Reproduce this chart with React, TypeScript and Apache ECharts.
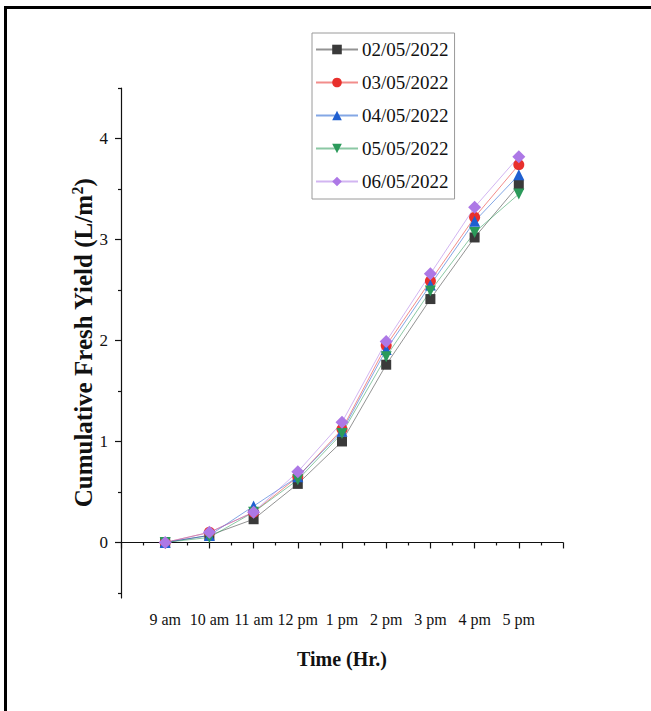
import React, { useEffect, useRef } from "react";
import * as echarts from "echarts";

const timeLabels = ["9 am", "10 am", "11 am", "12 pm", "1 pm", "2 pm", "3 pm", "4 pm", "5 pm"];
const seriesNames = ["02/05/2022", "03/05/2022", "04/05/2022", "05/05/2022", "06/05/2022"];
const d0205 = [0, 0.07, 0.23, 0.58, 1.0, 1.76, 2.41, 3.02, 3.54];
const d0305 = [0, 0.1, 0.3, 0.65, 1.12, 1.95, 2.59, 3.22, 3.74];
const d0405 = [0, 0.07, 0.36, 0.65, 1.1, 1.91, 2.55, 3.18, 3.64];
const d0505 = [0, 0.05, 0.3, 0.62, 1.08, 1.84, 2.49, 3.07, 3.45];
const d0605 = [0, 0.1, 0.3, 0.7, 1.19, 1.99, 2.66, 3.32, 3.82];
const yMajor = [0, 1, 2, 3, 4];
const yMinor = [-0.5, 0.5, 1.5, 2.5, 3.5, 4.5];

const FONT = "'Liberation Serif', 'Times New Roman', serif";

export default function App() {
  const ref = useRef<HTMLDivElement>(null);
  useEffect(() => {
    if (!ref.current) return;
    const chart = echarts.init(ref.current, undefined, { renderer: "svg" });
    const allData = [d0205, d0305, d0405, d0505, d0605];
    const colors = ["#3a3a3a", "#e8302c", "#1f5fd0", "#2b9a5a", "#ad78e6"];
    const symbols = ["rect", "circle", "triangle", "triangle", "diamond"];
    const rotates = [0, 0, 0, 180, 0];
    const sizes = [10, 11, 11, 11, 13];
    const series = seriesNames.map((name, i) => ({
      name,
      type: "line",
      data: allData[i].map((v, j) => [j + 1, v]),
      symbol: symbols[i],
      symbolSize: sizes[i],
      symbolRotate: rotates[i],
      itemStyle: { color: colors[i], opacity: 1 },
      lineStyle: { color: colors[i], width: 1, opacity: 0.55 },
      xAxisIndex: 0,
      yAxisIndex: 0,
    }));
    chart.setOption({
      animation: false,
      backgroundColor: "#ffffff",
      graphic: [
        {
          type: "rect",
          shape: { x: 5.5, y: 7.5, width: 700, height: 760 },
          style: { fill: "none", stroke: "#000", lineWidth: 3 },
          silent: true,
        },
      ],
      legend: {
        left: 312,
        top: 33,
        orient: "vertical",
        width: 136,
        padding: [7, 6, 8, 3],
        itemGap: 14,
        itemWidth: 42,
        itemHeight: 12,
        borderColor: "#9a9a9a",
        borderWidth: 1,
        textStyle: { fontFamily: FONT, fontSize: 19, color: "#111", padding: [0, 0, 0, -1] },
        data: seriesNames,
      },
      grid: { left: 121, right: 88, top: 88, bottom: 113, containLabel: false },
      xAxis: [
        {
          type: "value",
          min: 0,
          max: 10,
          interval: 1,
          name: "Time (Hr.)",
          nameLocation: "middle",
          nameGap: 51,
          nameMoveOverlap: false,
          nameTextStyle: { fontFamily: FONT, fontSize: 20, fontWeight: "bold", color: "#111" },
          axisLine: { show: true, lineStyle: { color: "#111", width: 1.2 } },
          axisTick: { show: true, inside: false, length: 6, lineStyle: { color: "#111", width: 1.2 } },
          minorTick: { show: true, splitNumber: 2, length: 3, lineStyle: { color: "#111", width: 1.2 } },
          splitLine: { show: false },
          axisLabel: {
            fontFamily: FONT,
            fontSize: 16,
            color: "#111",
            margin: 13,
            showMinLabel: true,
            showMaxLabel: true,
            formatter: (v: number) => (v >= 1 && v <= 9 ? timeLabels[v - 1] : ""),
          },
        },
      ],
      yAxis: [
        {
          type: "value",
          min: -0.55,
          max: 4.5,
          name: "Cumulative Fresh Yield (L/m{sup|2})",
          nameLocation: "middle",
          nameGap: 24,
          nameMoveOverlap: false,
          nameRotate: 90,
          nameTextStyle: {
            fontFamily: FONT,
            fontSize: 25,
            fontWeight: "bold",
            color: "#111",
            rich: {
              sup: { fontFamily: FONT, fontSize: 16, fontWeight: "bold", color: "#111", padding: [0, 0, 12, 0] },
            },
          },
          axisLine: { show: true, lineStyle: { color: "#111", width: 1.2 } },
          axisTick: { show: true, length: 6, customValues: yMajor, lineStyle: { color: "#111", width: 1.2 } },
          axisLabel: {
            fontFamily: FONT,
            fontSize: 17,
            color: "#111",
            margin: 13,
            customValues: yMajor,
            formatter: (v: number) => String(v),
          },
          splitLine: { show: false },
        },
        {
          type: "value",
          min: -0.55,
          max: 4.5,
          position: "left",
          axisLine: { show: false },
          axisTick: { show: true, length: 3, customValues: yMinor, lineStyle: { color: "#111", width: 1.2 } },
          axisLabel: { show: false },
          splitLine: { show: false },
        },
      ],
      series,
    });
    return () => chart.dispose();
  }, []);
  return <div ref={ref} style={{ position: "fixed", left: 0, top: 0, width: 651, height: 711 }} />;
}
